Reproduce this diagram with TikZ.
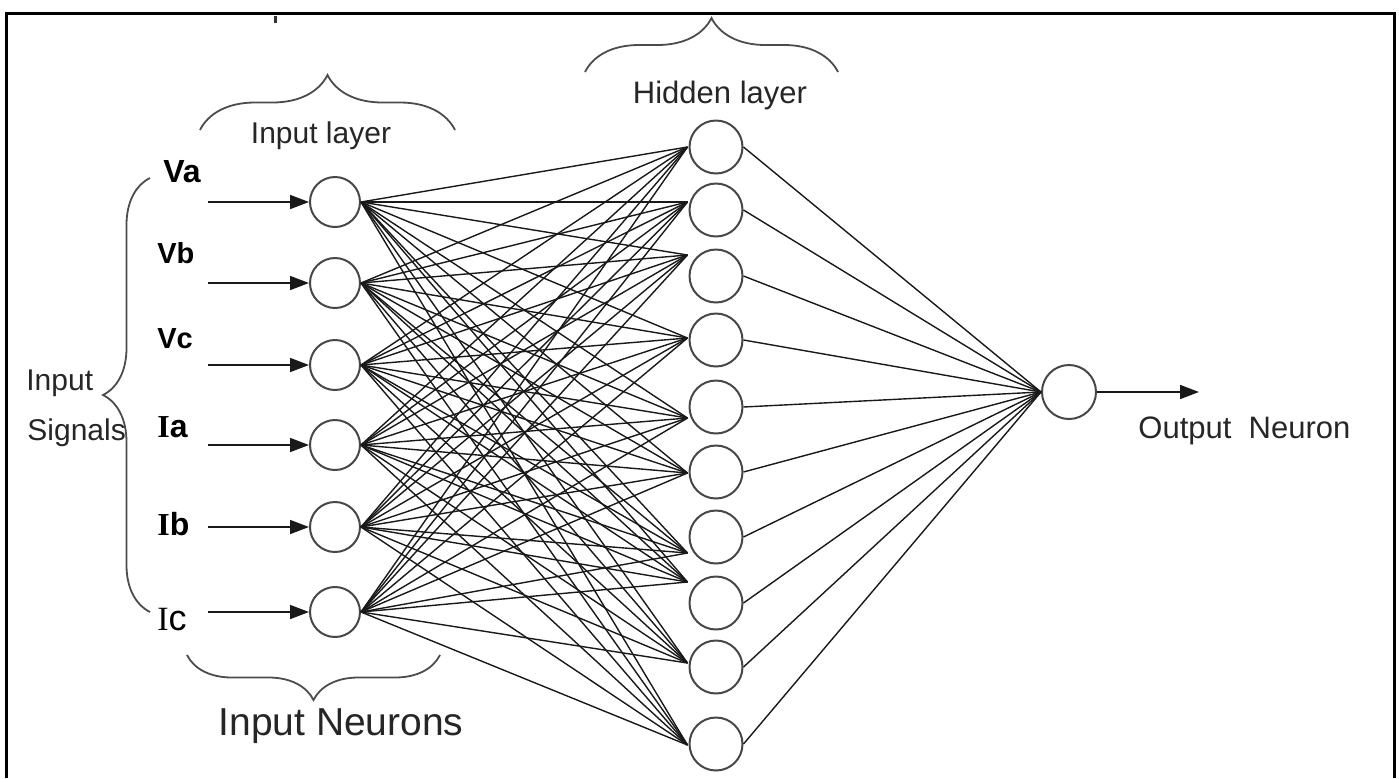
\documentclass[tikz,border=0pt]{standalone}
\usepackage{fontspec}
\setmainfont{Liberation Sans}
\newfontfamily\serifI{Liberation Serif}
\usetikzlibrary{arrows.meta,decorations.pathreplacing,calc}

\begin{document}
\begin{tikzpicture}[x=0.5pt,y=-0.5pt,
  neuron/.style={circle, draw=black!72, line width=1pt, inner sep=0pt, fill=white},
  link/.style={draw=black!90, line width=0.7pt},
  feed/.style={draw=black!90, line width=0.85pt, -{Triangle[length=9.5pt,width=7pt]}},
  lbl/.style={font=\fontsize{15}{18}\selectfont, inner sep=0pt, text=black!85},
  sig/.style={font=\fontsize{15}{18}\selectfont, inner sep=0pt, text=black, anchor=base west},
  brc/.style={decorate, decoration={brace, amplitude=#1}, draw=black!70, line width=0.9pt},
]
\useasboundingbox (0,0) rectangle (1399,778);

% outer frame (open at the bottom)
\draw[line width=1.5pt] (6,778) -- (6,13) -- (1394,13) -- (1394,778);
\fill[black!80] (274,16) rectangle (277,23);

% input layer
\foreach \y [count=\i] in {202,283,365,445,527,612}
  \node[neuron, minimum size=25pt] (in\i) at (335,\y) {};

% hidden layer
\foreach \y [count=\j] in {147,210,276,340,407,472,537,603,667,744}
  \node[neuron, minimum size=26.5pt] (h\j) at (716,\y) {};

% points where the incoming links of each hidden neuron meet
\foreach \d [count=\j] in {0,-8,-21,-2,11,1,16,-21,-4,1}
  \coordinate (j\j) at ($(h\j.west)+(-1,\d)$);

% output neuron
\node[neuron, minimum size=27pt] (out) at (1069,392) {};
\coordinate (oend) at (1199,392);

% fully connected links
\foreach \i in {1,...,6}
  \foreach \j in {1,...,10}
    \draw[link] (in\i.east) -- (j\j);
\foreach \j in {1,...,10}
  \draw[link] (h\j.east) -- (out.west);

% input signals
\node[sig, font=\fontsize{16}{18}\selectfont\bfseries] (va) at (163,182) {Va};
\node[sig, font=\fontsize{14.5}{18}\selectfont\bfseries] (vb) at (157,263) {Vb};
\node[sig, font=\fontsize{14.5}{18}\selectfont\bfseries] (vc) at (157,348) {Vc};
\node[sig, font=\fontsize{16}{18}\selectfont] (ia) at (157,437) {{\serifI\bfseries I}{\bfseries a}};
\node[sig, font=\fontsize{16}{18}\selectfont] (ib) at (157,535) {{\serifI\bfseries I}{\bfseries b}};
\node[sig, font=\fontsize{17}{18}\selectfont] (ic) at (157,630) {{\serifI I}{\fontsize{18}{18}\selectfont c}};

\foreach \y [count=\i] in {202,283,365,445,527,612}
  \coordinate (s\i) at (208,\y);
\foreach \i in {1,...,6}
  \draw[feed] (s\i) -- (in\i.west);
\draw[feed] (out.east) -- (oend);

% braces
\draw[brc=23.5pt] (150,612) -- (150,178);
\draw[brc=27.5pt] (200,130) -- (455,130);
\draw[brc=27pt] (585,72) -- (838,72);
\draw[brc=22.5pt] (440,655) -- (187,655);

% captions
\node[lbl, anchor=base west] (t1) at (26,390) {Input};
\node[lbl, anchor=base west] (t2) at (27,440) {Signals};
\node[lbl, anchor=base] (il) at (321,143) {Input layer};
\node[lbl, anchor=base, font=\fontsize{15.5}{18}\selectfont] (hl) at (720,103) {Hidden layer};
\node[lbl, anchor=base, font=\fontsize{19.5}{22}\selectfont] (inn) at (341,735) {Input Neurons};
\node[lbl, anchor=base west, font=\fontsize{15.5}{18}\selectfont] (on) at (1138,438) {Output\ \ Neuron};
\end{tikzpicture}
\end{document}
